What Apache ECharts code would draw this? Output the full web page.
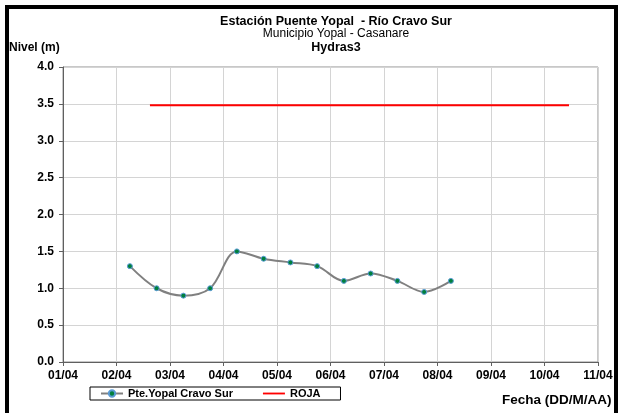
<!DOCTYPE html>
<html><head><meta charset="utf-8">
<script src="https://cdn.jsdelivr.net/npm/echarts@6/dist/echarts.min.js"></script>
<style>html,body{margin:0;padding:0;background:#fff}#c{width:622px;height:413px}</style>
</head><body><div id="c"></div>
<script>
var obsTimes = ['2004-04-02T06:00','2004-04-02T18:00','2004-04-03T06:00','2004-04-03T18:00','2004-04-04T06:00','2004-04-04T18:00','2004-04-05T06:00','2004-04-05T18:00','2004-04-06T06:00','2004-04-06T18:00','2004-04-07T06:00','2004-04-07T18:00','2004-04-08T06:00'];
var obsLevels = [1.3, 1.0, 0.9, 1.0, 1.5, 1.4, 1.35, 1.3, 1.1, 1.2, 1.1, 0.95, 1.1];
var rojaTimes = ['2004-04-02T15:00','2004-04-10T11:00'];
var rojaLevels = [3.48, 3.48];
var xStart = '2004-04-01T00:00';
var xEnd = '2004-04-11T00:00';
var titleLines = ['Estación Puente Yopal  - Río Cravo Sur','Municipio Yopal - Casanare','Hydras3'];
var seriesNames = ['Pte.Yopal Cravo Sur','ROJA'];

function dayNum(s){ return (Date.parse(s+'Z') - Date.parse('2004-04-01T00:00Z'))/86400000 + 1; }
function pairs(ts, vs){ return ts.map(function(t,i){ return [dayNum(t), vs[i]]; }); }

var chart = echarts.init(document.getElementById('c'));
var F = 'Liberation Sans, Arial, sans-serif';
chart.setOption({
  animation:false,
  textStyle:{fontFamily:F},
  title:[
    {text:titleLines[0], left:331, top:10, textAlign:'center', textStyle:{fontSize:12.5, fontWeight:'bold', color:'#000', fontFamily:F}},
    {text:titleLines[1], left:331, top:23, textAlign:'center', textStyle:{fontSize:12, fontWeight:'normal', color:'#000', fontFamily:F}},
    {text:titleLines[2], left:331, top:36, textAlign:'center', textStyle:{fontSize:12.5, fontWeight:'bold', color:'#000', fontFamily:F}},
    {text:'Nivel (m)', left:4, top:37, textStyle:{fontSize:12, fontWeight:'bold', color:'#000', fontFamily:F}},
    {text:'Fecha (DD/M/AA)', left:497, top:388, textStyle:{fontSize:13.5, fontWeight:'bold', color:'#000', fontFamily:F}}
  ],
  graphic:[{type:'rect', shape:{x:7, y:7, width:609, height:430}, style:{fill:'none', stroke:'#000', lineWidth:4}, silent:true}],
  legend:{
    left:90, top:387, padding:[1,20,1,10],
    borderColor:'#000', borderWidth:1, itemGap:30, itemWidth:22, itemHeight:8,
    textStyle:{fontSize:11, fontWeight:'bold', color:'#000', fontFamily:F},
    data:[{name:seriesNames[0]},{name:seriesNames[1], icon:'path://M0,0 M0,8 M0,3 L24,3 L24,5 L0,5 Z'}]
  },
  grid:{left:63, right:24, top:67, bottom:51, show:true, borderColor:'#909090', borderWidth:1},
  xAxis:{
    type:'value', min:dayNum(xStart), max:dayNum(xEnd), interval:1,
    axisLine:{show:true, lineStyle:{color:'#606060', width:1}},
    axisTick:{show:true, inside:false, length:4, lineStyle:{color:'#606060'}},
    axisLabel:{fontSize:12, fontWeight:'bold', color:'#000', margin:8, fontFamily:F,
      formatter:function(v){ var d=Math.round(v); return (d<10?'0':'')+d+'/04'; }},
    splitLine:{show:true, lineStyle:{color:'#d4d4d4', width:1}}
  },
  yAxis:{
    type:'value', min:0, max:4, interval:0.5,
    axisLine:{show:true, lineStyle:{color:'#606060', width:1}},
    axisTick:{show:true, inside:false, length:4, lineStyle:{color:'#606060'}},
    axisLabel:{fontSize:12, fontWeight:'bold', color:'#000', margin:9, fontFamily:F,
      formatter:function(v){ return v.toFixed(1); }},
    splitLine:{show:true, lineStyle:{color:'#d4d4d4', width:1}}
  },
  series:[
    {name:seriesNames[0], type:'line', smooth:0.35, data:pairs(obsTimes, obsLevels),
     symbol:'circle', symbolSize:5,
     lineStyle:{color:'#808080', width:2},
     itemStyle:{color:'#00803c', borderColor:'#5b9bd5', borderWidth:1}},
    {name:seriesNames[1], type:'line', data:pairs(rojaTimes, rojaLevels),
     symbol:'none', lineStyle:{color:'#ff0000', width:2}, itemStyle:{color:'#ff0000'}}
  ]
});
</script></body></html>
